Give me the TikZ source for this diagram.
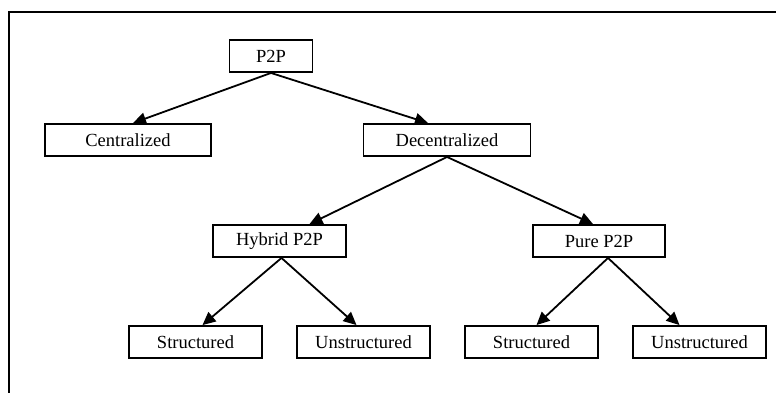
\documentclass[tikz,border=0pt]{standalone}
\usepackage{fontspec}
\setmainfont{Liberation Serif}
\usetikzlibrary{arrows.meta}

\begin{document}
\begin{tikzpicture} [
        x = 1pt, y = -1pt,
        box/.style = {rectangle, draw, line width=1.9pt, inner sep=0pt,
                     minimum height=32pt, minimum width=#1,
                     font=\fontsize{18.5}{21}\selectfont},
        arr/.style = {-{Triangle[length=13pt,width=12pt]}, line width=1.8pt}
    ]
    \useasboundingbox (0,0) rectangle (776,392);
    \clip (0,0) rectangle (776,392);
    \draw[line width=2.2pt] (9,12) rectangle (800,420);

    \node (P2P)   [box=83pt]  at (271,56)    {P2P};
    \node (Cent)  [box=166pt] at (128,140)   {Centralized};
    \node (Dec)   [box=167pt] at (447,140)   {Decentralized};
    \node (Hyb)   [box=133pt] at (279.5,241) {Hybrid P2P};
    \node (Pure)  [box=132pt] at (599,241)   {Pure P2P};
    \node (HStr)  [box=133pt] at (195.5,342) {Structured};
    \node (HUns)  [box=133pt] at (363.5,342) {Unstructured};
    \node (PStr)  [box=133pt] at (531.5,342) {Structured};
    \node (PUns)  [box=133pt] at (699.5,342) {Unstructured};

    \draw[arr] (P2P.south) -- ([xshift=5pt]Cent.north);
    \draw[arr] (P2P.south) -- ([xshift=-19pt]Dec.north);
    \draw[arr] (Dec.south) -- ([xshift=30pt]Hyb.north);
    \draw[arr] (Dec.south) -- ([xshift=-6pt]Pure.north);
    \draw[arr] ([xshift=2pt]Hyb.south) -- ([xshift=7pt]HStr.north);
    \draw[arr] ([xshift=2pt]Hyb.south) -- ([xshift=-7pt]HUns.north);
    \draw[arr] ([xshift=9pt]Pure.south) -- ([xshift=5pt]PStr.north);
    \draw[arr] ([xshift=9pt]Pure.south) -- ([xshift=-20pt]PUns.north);

\end{tikzpicture}
\end{document}
